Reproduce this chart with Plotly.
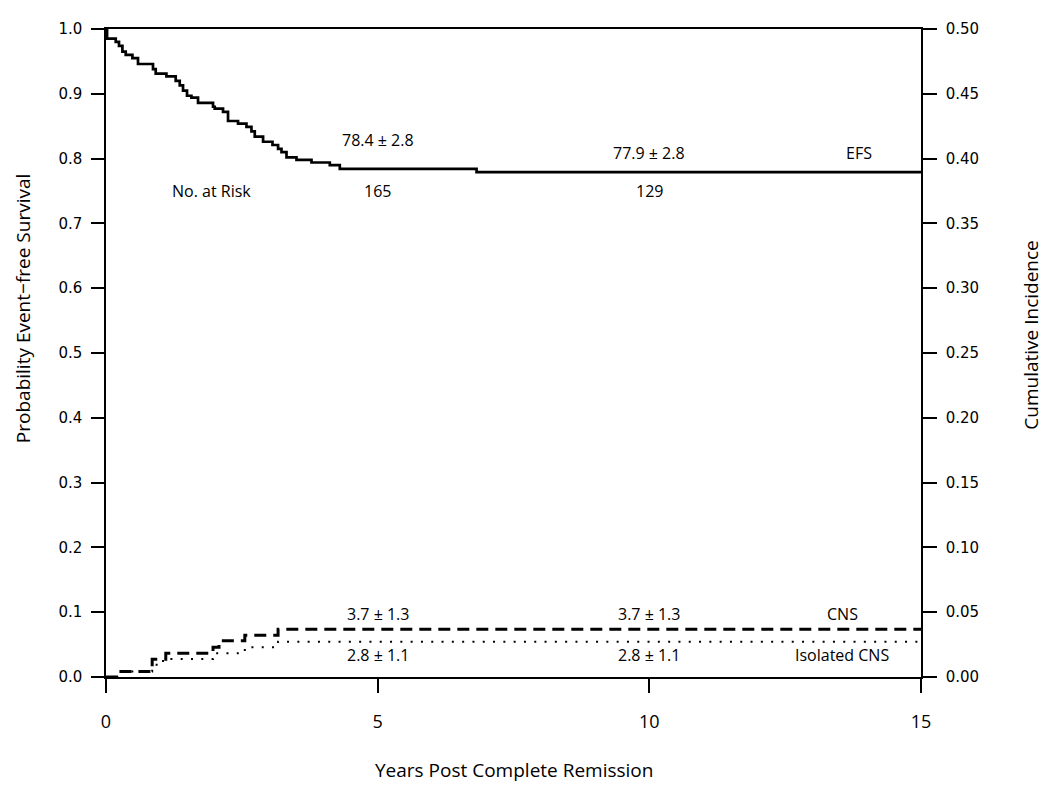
import plotly.graph_objects as go

# EFS (left axis)
efs_t = [0.0, 0.02, 0.179, 0.239, 0.302, 0.363, 0.486, 0.589, 0.865, 0.915, 1.112, 1.283,
         1.357, 1.418, 1.491, 1.572, 1.694, 1.970, 2.001, 2.154, 2.246, 2.430, 2.585, 2.677,
         2.738, 2.891, 3.064, 3.167, 3.230, 3.322, 3.506, 3.782, 4.119, 4.303, 6.820, 15.0]
efs_s = [1.0, 0.985, 0.980, 0.974, 0.965, 0.960, 0.955, 0.946, 0.938, 0.931, 0.927, 0.920,
         0.913, 0.905, 0.897, 0.894, 0.886, 0.880, 0.877, 0.872, 0.858, 0.854, 0.849, 0.842,
         0.834, 0.826, 0.821, 0.815, 0.810, 0.802, 0.798, 0.794, 0.790, 0.784, 0.779, 0.779]

# Cumulative incidence (right axis)
cns_t = [0.0, 0.22, 0.85, 1.10, 1.97, 2.08, 2.555, 3.167, 15.0]
cns_v = [0.0, 0.0043, 0.0137, 0.0183, 0.0229, 0.0279, 0.0322, 0.0368, 0.0368]
iso_t = [0.0, 0.22, 0.85, 1.05, 1.97, 2.555, 3.167, 15.0]
iso_v = [0.0, 0.0043, 0.0094, 0.0139, 0.0183, 0.0229, 0.0272, 0.0272]

x_ticks = [0, 5, 10, 15]
left_ticks = [0.0, 0.1, 0.2, 0.3, 0.4, 0.5, 0.6, 0.7, 0.8, 0.9, 1.0]
right_ticks = [0.0, 0.05, 0.10, 0.15, 0.20, 0.25, 0.30, 0.35, 0.40, 0.45, 0.50]

# text labels: (text, x in years, y on left axis)
labels = [
    ("78.4 \u00b1 2.8", 5, 0.828),
    ("77.9 \u00b1 2.8", 10, 0.808),
    ("EFS", 13.85, 0.808),
    ("No. at Risk", 1.95, 0.750),
    ("165", 5, 0.750),
    ("129", 10, 0.750),
    ("3.7 \u00b1 1.3", 5, 0.098),
    ("3.7 \u00b1 1.3", 10, 0.098),
    ("CNS", 13.55, 0.098),
    ("2.8 \u00b1 1.1", 5, 0.034),
    ("2.8 \u00b1 1.1", 10, 0.034),
    ("Isolated CNS", 13.55, 0.034),
]

TXT = "Open Sans, Liberation Sans, sans-serif"
TICK = "DejaVu Sans, Verdana, sans-serif"

fig = go.Figure()
fig.add_trace(go.Scatter(x=efs_t, y=efs_s, mode="lines", line=dict(shape="hv", color="black", width=2.7),
                         name="EFS", showlegend=False, yaxis="y"))
fig.add_trace(go.Scatter(x=cns_t, y=cns_v, mode="lines", line=dict(shape="hv", color="black", width=3, dash="12px,7px"),
                         name="CNS", showlegend=False, yaxis="y2"))
fig.add_trace(go.Scatter(x=iso_t, y=iso_v, mode="lines", line=dict(shape="hv", color="black", width=2, dash="2px,8.3px"),
                         name="Isolated CNS", showlegend=False, yaxis="y2"))

for txt, xv, yv in labels:
    fig.add_annotation(x=xv, y=yv, xref="x", yref="y", text=txt, showarrow=False,
                       font=dict(family=TXT, size=16, color="black"), xanchor="center", yanchor="middle")

fig.add_annotation(x=0.5006, y=-0.143, xref="paper", yref="paper", text="Years Post Complete Remission",
                   showarrow=False, xanchor="center", yanchor="middle",
                   font=dict(family=TXT, size=19, color="black"))
fig.add_annotation(x=-0.102, y=0.569, xref="paper", yref="paper", text="Probability Event\u2212free Survival",
                   showarrow=False, textangle=-90, xanchor="center", yanchor="middle",
                   font=dict(family=TXT, size=19, color="black"))
fig.add_annotation(x=1.134, y=0.527, xref="paper", yref="paper", text="Cumulative Incidence",
                   showarrow=False, textangle=-90, xanchor="center", yanchor="middle",
                   font=dict(family=TXT, size=19, color="black"))

fig.update_layout(
    width=1050, height=794,
    margin=dict(l=98, r=137, t=13, b=125),
    paper_bgcolor="white", plot_bgcolor="white",
    showlegend=False,
    xaxis=dict(range=[0, 15], tickvals=x_ticks, ticktext=[str(v) for v in x_ticks],
               showgrid=False, zeroline=False, showline=True, linecolor="black", linewidth=1.5,
               mirror=True, ticks="outside", ticklen=14, tickwidth=1.5, tickcolor="black",
               tickfont=dict(family=TXT, size=18, color="black"), ticklabelstandoff=14),
    yaxis=dict(range=[0, 1], tickvals=left_ticks, ticktext=["%.1f" % v for v in left_ticks],
               showgrid=False, zeroline=False, showline=True, linecolor="black", linewidth=1.5,
               ticks="outside", ticklen=13, tickwidth=1.5, tickcolor="black",
               tickfont=dict(family=TICK, size=15, color="black"), ticklabelstandoff=6),
    yaxis2=dict(range=[0, 0.5], tickvals=right_ticks, ticktext=["%.2f" % v for v in right_ticks],
                overlaying="y", side="right", anchor="x",
                showgrid=False, zeroline=False, showline=True, linecolor="black", linewidth=1.5,
                ticks="outside", ticklen=14, tickwidth=1.5, tickcolor="black",
                tickfont=dict(family=TICK, size=15, color="black"), ticklabelstandoff=6),
)

fig.write_html("out.html")
